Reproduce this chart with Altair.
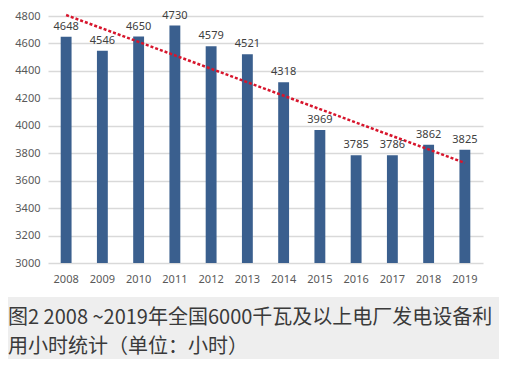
import altair as alt
import pandas as pd

years = ["2008", "2009", "2010", "2011", "2012", "2013", "2014", "2015", "2016", "2017", "2018", "2019"]
hours = [4648, 4546, 4650, 4730, 4579, 4521, 4318, 3969, 3785, 3786, 3862, 3825]
y_ticks = [3000, 3200, 3400, 3600, 3800, 4000, 4200, 4400, 4600, 4800]
caption_lines = ["图2 2008 ~2019年全国6000千瓦及以上电厂发电设备利", "用小时统计（单位：小时）"]

df = pd.DataFrame({"year": years, "yr": [int(y) for y in years], "v": hours})

W, H = 435, 247
PAD = {"left": 40, "top": 8, "right": 16, "bottom": 96}

x_axis = alt.Axis(title=None, labelAngle=0, ticks=False, domain=False,
                  labelPadding=10, labelFontSize=11, labelColor="#595959",
                  labelFont="Noto Sans", grid=False)
y_axis = alt.Axis(title=None, values=y_ticks, format="d", ticks=False, domain=False,
                  labelOverlap=False, labelPadding=8, labelFontSize=11,
                  labelColor="#595959", labelFont="Noto Sans",
                  gridColor="#d9d9d9", gridWidth=1.5)
x_scale = alt.Scale(paddingInner=0.7, paddingOuter=0.35)
y_scale = alt.Scale(domain=[3000, 4800], nice=False, zero=False)
x_enc = alt.X("year:O", sort=years, scale=x_scale, axis=x_axis)
y_enc = alt.Y("v:Q", scale=y_scale, axis=y_axis)

base = alt.Chart(df)

bars = base.mark_bar(color="#3a5f8e").encode(x=x_enc, y=y_enc, y2=alt.datum(3000))

labels = base.mark_text(baseline="bottom", dy=-5, fontSize=11, color="#404040",
                        font="Noto Sans").encode(
    x=x_enc, y=y_enc, text=alt.Text("v:Q"))

trend = base.transform_regression("yr", "v").transform_calculate(
    year="toString(datum.yr)"
).mark_line(color="#d7152c", strokeWidth=2.5, strokeDash=[3, 2]).encode(
    x=x_enc, y=y_enc)

cap_df = pd.DataFrame({"t": caption_lines, "py": [302, 331]})
band = alt.Chart(alt.Data(values=[{"a": 1}])).mark_rect(color="#eeeeee").encode(
    x=alt.value(-40), x2=alt.value(W + PAD["right"]), y=alt.value(281), y2=alt.value(H + PAD["bottom"]))
caption = alt.Chart(cap_df).mark_text(align="left", baseline="middle", fontSize=20,
                                      font="Noto Sans CJK SC", color="#3a3a3a").encode(
    x=alt.value(-40), y=alt.Y("py:Q", scale=None), text="t:N")

chart = alt.layer(band, bars, trend, labels, caption).properties(
    width=W, height=H, padding=PAD, autosize=alt.AutoSizeParams(type="none"),
    background="#ffffff"
).configure_view(stroke=None)

chart.save("out.html", embed_options={"renderer": "svg", "actions": False})
